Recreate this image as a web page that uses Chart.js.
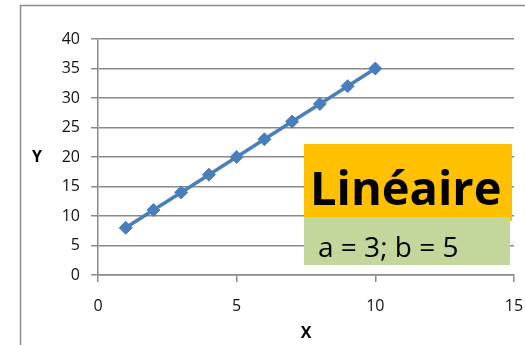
<!DOCTYPE html>
<html>
<head>
<meta charset="utf-8">
<script src="https://cdn.jsdelivr.net/npm/chart.js@4/dist/chart.umd.min.js"></script>
<style>
  html, body { margin: 0; padding: 0; background: #fff; }
  #wrap { width: 525px; height: 345px; position: relative; }
</style>
</head>
<body>
<div id="wrap"><canvas id="chart" width="525" height="345"></canvas></div>
<script>
var xValues = [1, 2, 3, 4, 5, 6, 7, 8, 9, 10];
var yValues = [8, 11, 14, 17, 20, 23, 26, 29, 32, 35];
var xTickValues = [0, 5, 10, 15];
var yTickValues = [0, 5, 10, 15, 20, 25, 30, 35, 40];
var xTitle = 'X';
var yTitle = 'Y';
var boxTitle = 'Linéaire';
var boxText = 'a = 3; b = 5';

var FONT = '"Open Sans", "DejaVu Sans", sans-serif';
var GRID = '#8a8a8a';
var BLUE = '#4a7ebb';

var points = xValues.map(function (x, i) {
  return { x: x, y: yValues[i] };
});

function useTicks(values) {
  return function (scale) {
    scale.ticks = values.map(function (v) { return { value: v }; });
  };
}

// frame, axis titles and the label box
var decorations = {
  id: 'decorations',
  beforeDraw: function (chart) {
    var ctx = chart.ctx;
    ctx.save();
    ctx.strokeStyle = GRID;
    ctx.lineWidth = 1.5;
    ctx.strokeRect(20.5, 5.5, 700, 500);
    ctx.restore();
  },
  afterDraw: function (chart) {
    var ctx = chart.ctx;
    var area = chart.chartArea;
    ctx.save();

    ctx.fillStyle = '#000';
    ctx.font = 'bold 16px ' + FONT;
    ctx.textAlign = 'center';
    ctx.textBaseline = 'middle';
    ctx.fillText(yTitle, 37, (area.top + area.bottom) / 2);
    ctx.fillText(xTitle, (area.left + area.right) / 2, 333);

    ctx.fillStyle = '#ffc000';
    ctx.fillRect(304, 144, 208, 77);
    ctx.fillStyle = '#c3d69b';
    ctx.fillRect(304, 217, 206, 48);

    ctx.fillStyle = '#000';
    ctx.textAlign = 'left';
    ctx.textBaseline = 'alphabetic';
    var size = 52;
    ctx.font = 'bold ' + size + 'px ' + FONT;
    var w = ctx.measureText(boxTitle).width;
    size = Math.floor(size * 195 / w);
    ctx.font = 'bold ' + size + 'px ' + FONT;
    ctx.fillText(boxTitle, 310, 205);

    size = 26;
    ctx.font = size + 'px ' + FONT;
    w = ctx.measureText(boxText).width;
    size = Math.floor(size * 145 / w);
    ctx.font = size + 'px ' + FONT;
    ctx.fillText(boxText, 318, 257);

    ctx.restore();
  }
};

new Chart(document.getElementById('chart'), {
  type: 'line',
  data: {
    datasets: [{
      data: points,
      borderColor: BLUE,
      backgroundColor: BLUE,
      borderWidth: 3.5,
      pointStyle: 'rectRot',
      pointRadius: 6.5,
      pointBorderWidth: 1,
      tension: 0
    }]
  },
  options: {
    responsive: false,
    animation: false,
    layout: { padding: { top: 39, right: 0, bottom: 0, left: 0 } },
    plugins: {
      legend: { display: false },
      tooltip: { enabled: false }
    },
    scales: {
      x: {
        type: 'linear',
        min: 0,
        max: 15,
        afterBuildTicks: useTicks(xTickValues),
        afterFit: function (scale) {
          scale.height = 70;
          scale.paddingRight = 11;
        },
        border: { color: GRID, width: 1.5 },
        grid: { drawOnChartArea: false, drawTicks: true, tickLength: 7, color: GRID, lineWidth: 1.5 },
        ticks: { color: '#111', font: { family: FONT, size: 16 }, padding: 15, maxRotation: 0 }
      },
      y: {
        min: 0,
        max: 40,
        afterBuildTicks: useTicks(yTickValues),
        afterFit: function (scale) { scale.width = 98; },
        border: { color: GRID, width: 1.5 },
        grid: { color: GRID, lineWidth: 1.5, tickLength: 7 },
        ticks: { color: '#111', font: { family: FONT, size: 16 }, padding: 11 }
      }
    }
  },
  plugins: [decorations]
});
</script>
</body>
</html>
